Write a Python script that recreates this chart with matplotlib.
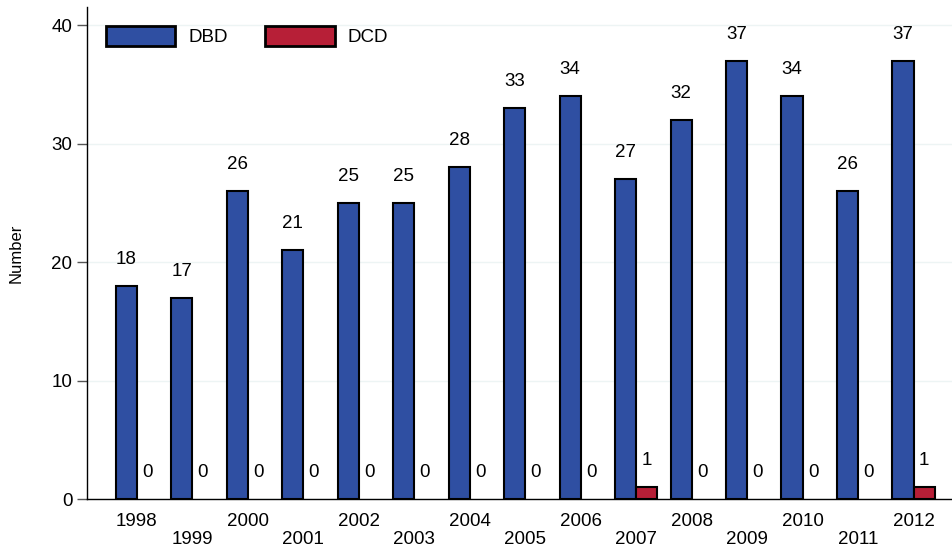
import matplotlib.pyplot as plt
import numpy as np

plt.rcParams['font.family'] = ['Liberation Sans', 'DejaVu Sans']

# ------------------ data ------------------
years = ['1998', '1999', '2000', '2001', '2002', '2003', '2004', '2005',
         '2006', '2007', '2008', '2009', '2010', '2011', '2012']
dbd = [18, 17, 26, 21, 25, 25, 28, 33, 34, 27, 32, 37, 34, 26, 37]
dcd = [0, 0, 0, 0, 0, 0, 0, 0, 0, 1, 0, 0, 0, 0, 1]

blue = '#2f4fa2'
red = '#b71f37'
fs = 13.5

fig = plt.figure(figsize=(9.53, 5.5), dpi=100)
ax = fig.add_axes([0.0913, 0.0927, 0.908, 0.894])

x = np.arange(len(years))
w = 0.38
ax.bar(x - w / 2, dbd, w, color=blue, edgecolor='black', linewidth=1.5, label='DBD', zorder=3)
# zero-height bars should not leave an outline on the axis
lw2 = [1.5 if v > 0 else 0 for v in dcd]
ax.bar(x + w / 2, dcd, w, color=red, edgecolor='black', linewidth=lw2, label='DCD', zorder=3)

# value labels above bars
for xi, v in zip(x - w / 2, dbd):
    ax.annotate(str(v), (xi, v), xytext=(0, 13), textcoords='offset points',
                ha='center', va='bottom', fontsize=fs)
for xi, v in zip(x + w / 2, dcd):
    ax.annotate(str(v), (xi, v), xytext=(0, 13), textcoords='offset points',
                ha='center', va='bottom', fontsize=fs)

ax.set_xlim(-0.9, 14.7)
ax.set_ylim(0, 41.5)
ax.set_yticks([0, 10, 20, 30, 40])
ax.tick_params(axis='y', labelsize=fs, length=7, width=1, color='#555555')
ax.set_xticks(x)
ax.set_xticklabels([y if i % 2 == 0 else '\n' + y for i, y in enumerate(years)],
                   fontsize=fs, linespacing=1.12)
ax.tick_params(axis='x', length=0, pad=10)
ax.set_ylabel('Number', fontsize=12, labelpad=20)

ax.grid(axis='y', color='#edf4f4', linewidth=1, zorder=0)
ax.spines['top'].set_visible(False)
ax.spines['right'].set_visible(False)
ax.spines['left'].set_linewidth(1)
ax.spines['bottom'].set_linewidth(1)

leg = ax.legend(loc='upper left', ncol=2, frameon=False, fontsize=fs,
                handlelength=3.7, handleheight=1.25, handletextpad=0.7,
                columnspacing=2.0, bbox_to_anchor=(0.0, 1.0), borderaxespad=0.6)
for p in leg.get_patches():
    p.set_linewidth(2)

fig.savefig('out.png', dpi=100)
